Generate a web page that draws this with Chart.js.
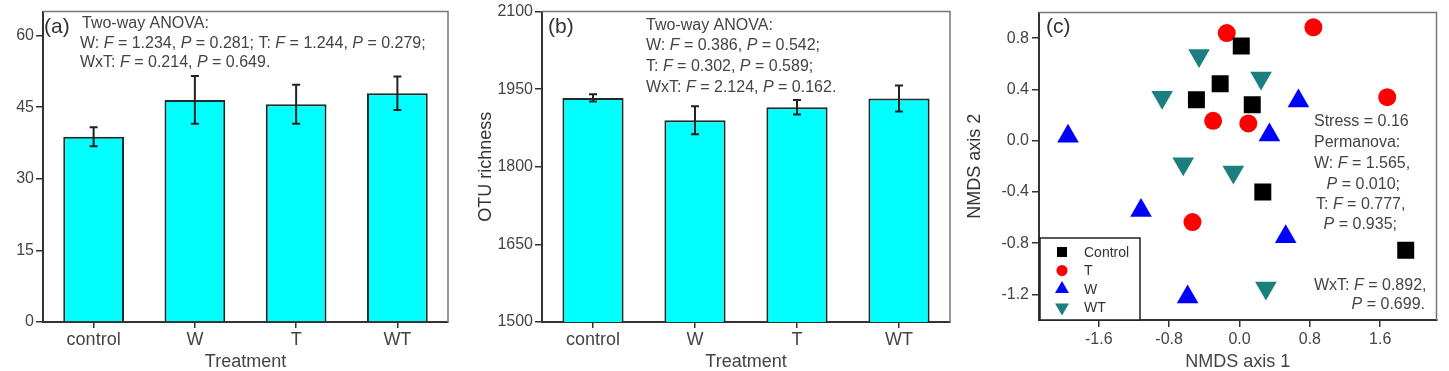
<!DOCTYPE html>
<html>
<head>
<meta charset="utf-8">
<script src="https://cdn.jsdelivr.net/npm/chart.js@4.4.1/dist/chart.umd.min.js"></script>
<style>
  html, body { margin: 0; padding: 0; background: #fff; }
  body { width: 1449px; height: 371px; position: relative; overflow: hidden; }
  canvas { position: absolute; top: 0; }
</style>
</head>
<body>
<canvas id="chartA" width="470" height="371" style="left:0"></canvas>
<canvas id="chartB" width="490" height="371" style="left:470px"></canvas>
<canvas id="chartC" width="489" height="371" style="left:960px"></canvas>
<script>
const treatments = ['control', 'W', 'T', 'WT'];

// panel (a)
const meanA = [38.8, 46.5, 45.6, 47.9];
const errA = [2.0, 5.0, 4.1, 3.5];
const ticksA = [0, 15, 30, 45, 60];

// panel (b), OTU richness
const meanB = [1933, 1890, 1915, 1932];
const errB = [7, 27, 14, 25];
const ticksB = [1500, 1650, 1800, 1950, 2100];

// panel (c), NMDS ordination
const controlX = [0.02, -0.22, -0.49, 0.145, 0.265, 1.89];
const controlY = [0.74, 0.445, 0.32, 0.28, -0.40, -0.855];
const tX = [-0.145, 0.84, 1.68, -0.30, 0.10, -0.535];
const tY = [0.84, 0.885, 0.34, 0.155, 0.135, -0.635];
const wX = [0.67, -1.95, 0.34, -1.12, 0.525, -0.59];
const wY = [0.31, 0.035, 0.045, -0.545, -0.75, -1.22];
const wtX = [-0.46, 0.245, -0.88, -0.64, -0.07, 0.30];
const wtY = [0.665, 0.49, 0.34, -0.18, -0.245, -1.15];
const nmdsTicksX = [-1.6, -0.8, 0, 0.8, 1.6];
const nmdsTicksY = [-1.2, -0.8, -0.4, 0, 0.4, 0.8];

const FONT = '"Liberation Sans", Arial, sans-serif';
Chart.defaults.font.family = FONT;
Chart.defaults.color = '#444';
Chart.defaults.animation = false;
Chart.defaults.plugins.legend.display = false;
Chart.defaults.plugins.tooltip.enabled = false;

// text with *italic* parts
function drawRich(ctx, text, x, y, size, align) {
  const parts = text.split('*');
  const fonts = parts.map((p, i) => (i % 2 ? 'italic ' : '') + size + 'px ' + FONT);
  let w = 0;
  parts.forEach((p, i) => { ctx.font = fonts[i]; w += ctx.measureText(p).width; });
  let cx = align === 'right' ? x - w : x;
  parts.forEach((p, i) => {
    ctx.font = fonts[i];
    ctx.fillText(p, cx, y);
    cx += ctx.measureText(p).width;
  });
}

const frame = {
  id: 'frame',
  afterDraw(chart) {
    const { ctx, chartArea: a } = chart;
    ctx.save();
    ctx.strokeStyle = '#777';
    ctx.lineWidth = 1.5;
    ctx.beginPath();
    ctx.moveTo(a.left, a.top);
    ctx.lineTo(a.right, a.top);
    ctx.lineTo(a.right, a.bottom);
    ctx.stroke();
    ctx.restore();
  }
};

const errorBars = {
  id: 'errorBars',
  afterDatasetsDraw(chart, args, opts) {
    if (!opts.errors) return;
    const { ctx } = chart;
    const y = chart.scales.y;
    const vals = chart.data.datasets[0].data;
    ctx.save();
    ctx.strokeStyle = '#222';
    ctx.lineWidth = 2;
    chart.getDatasetMeta(0).data.forEach((bar, i) => {
      const top = y.getPixelForValue(vals[i] + opts.errors[i]);
      const bot = y.getPixelForValue(vals[i] - opts.errors[i]);
      ctx.beginPath();
      ctx.moveTo(bar.x, top); ctx.lineTo(bar.x, bot);
      ctx.moveTo(bar.x - 4, top); ctx.lineTo(bar.x + 4, top);
      ctx.moveTo(bar.x - 4, bot); ctx.lineTo(bar.x + 4, bot);
      ctx.stroke();
    });
    ctx.restore();
  }
};

const notes = {
  id: 'notes',
  afterDraw(chart, args, opts) {
    if (!opts.lines) return;
    const { ctx } = chart;
    ctx.save();
    ctx.textBaseline = 'alphabetic';
    opts.lines.forEach(l => {
      ctx.fillStyle = l.color || '#444';
      drawRich(ctx, l.text, l.x, l.y, l.size || 16, l.align);
    });
    ctx.restore();
  }
};

function marker(ctx, style, x, y, r) {
  ctx.beginPath();
  if (style === 'rect') {
    ctx.rect(x - r, y - r, 2 * r, 2 * r);
  } else if (style === 'circle') {
    ctx.arc(x, y, r, 0, Math.PI * 2);
  } else {
    const s = style === 'down' ? -1 : 1;
    ctx.moveTo(x, y - s * r);
    ctx.lineTo(x + r * 0.87, y + s * r * 0.5);
    ctx.lineTo(x - r * 0.87, y + s * r * 0.5);
    ctx.closePath();
  }
  ctx.fill();
}

const nmdsLegend = {
  id: 'nmdsLegend',
  afterDraw(chart) {
    const { ctx } = chart;
    const bottom = chart.chartArea.bottom;
    ctx.save();
    ctx.fillStyle = '#fff';
    ctx.fillRect(80, 238, 100, bottom - 238);
    ctx.strokeStyle = '#222';
    ctx.lineWidth = 1.5;
    ctx.strokeRect(80, 238, 100, bottom - 238);
    const items = [
      ['Control', 'rect', '#000', 5],
      ['T', 'circle', '#ff0000', 5.5],
      ['W', 'up', '#0000ff', 8],
      ['WT', 'down', '#1b7f7f', 8]
    ];
    items.forEach((it, i) => {
      const cy = 252 + i * 18.5;
      ctx.fillStyle = it[2];
      marker(ctx, it[1], 102, cy, it[3]);
      ctx.fillStyle = '#333';
      ctx.font = '14px ' + FONT;
      ctx.textBaseline = 'middle';
      ctx.fillText(it[0], 124, cy + 1);
    });
    ctx.restore();
  }
};

function axisStyle(extra) {
  return Object.assign({
    grid: { drawOnChartArea: false, drawTicks: true, tickLength: 7, color: '#333', lineWidth: 1.5 },
    border: { display: true, color: '#333', width: 2 }
  }, extra);
}

function barChart(id, values, errors, ticks, yWidth, padRight, yTitle, lines) {
  return new Chart(document.getElementById(id), {
    type: 'bar',
    data: {
      labels: treatments,
      datasets: [{
        data: values,
        backgroundColor: '#00ffff',
        borderColor: '#1d2b2b',
        borderWidth: 2,
        barPercentage: 0.6,
        categoryPercentage: 1
      }]
    },
    options: {
      responsive: false,
      layout: { padding: { left: 0, right: padRight, top: 10, bottom: 0 } },
      scales: {
        x: axisStyle({
          grid: { offset: false, drawOnChartArea: false, tickLength: 6, color: '#333', lineWidth: 1.5 },
          ticks: { font: { size: 18 }, padding: 1, color: '#444' },
          title: { display: true, text: 'Treatment', font: { size: 18, lineHeight: 1 }, padding: 0, color: '#444' },
          afterFit: s => { s.height = 49; }
        }),
        y: axisStyle({
          min: ticks[0],
          max: ticks[ticks.length - 1] + (id === 'chartA' ? 5 : 0),
          ticks: { font: { size: 16 }, padding: 2, color: '#444', callback: v => String(v) },
          title: { display: !!yTitle, text: yTitle, font: { size: 18, lineHeight: 1.2 }, padding: { top: 5, bottom: 0 }, color: '#333' },
          afterBuildTicks: s => { s.ticks = ticks.map(v => ({ value: v })); },
          afterFit: s => { s.width = yWidth; }
        })
      },
      plugins: { errorBars: { errors }, notes: { lines } }
    },
    plugins: [frame, errorBars, notes]
  });
}

barChart('chartA', meanA, errA, ticksA, 43, 22, '', [
  { text: '(a)', x: 44, y: 33, size: 21, color: '#333' },
  { text: 'Two-way ANOVA:', x: 82, y: 28 },
  { text: 'W: *F* = 1.234, *P* = 0.281; T: *F* = 1.244, *P* = 0.279;', x: 80, y: 48 },
  { text: 'WxT: *F* = 0.214, *P* = 0.649.', x: 80, y: 67 }
]);

barChart('chartB', meanB, errB, ticksB, 72, 10, 'OTU richness', [
  { text: '(b)', x: 78, y: 33, size: 21, color: '#333' },
  { text: 'Two-way ANOVA:', x: 176, y: 30 },
  { text: 'W: *F* = 0.386, *P* = 0.542;', x: 176, y: 50 },
  { text: 'T: *F* = 0.302, *P* = 0.589;', x: 176, y: 71 },
  { text: 'WxT: *F* = 2.124, *P* = 0.162.', x: 176, y: 92 }
]);

function pts(xs, ys) {
  return xs.map((x, i) => ({ x, y: ys[i] }));
}

new Chart(document.getElementById('chartC'), {
  type: 'scatter',
  data: {
    datasets: [
      { label: 'Control', data: pts(controlX, controlY), pointStyle: 'rect', pointRadius: 12, backgroundColor: '#000', borderWidth: 0 },
      { label: 'T', data: pts(tX, tY), pointStyle: 'circle', pointRadius: 9, backgroundColor: '#ff0000', borderWidth: 0 },
      { label: 'W', data: pts(wX, wY), pointStyle: 'triangle', pointRadius: 12.5, backgroundColor: '#0000ff', borderWidth: 0 },
      { label: 'WT', data: pts(wtX, wtY), pointStyle: 'triangle', rotation: 180, pointRadius: 12.5, backgroundColor: '#1b7f7f', borderWidth: 0 }
    ]
  },
  options: {
    responsive: false,
    layout: { padding: { left: 0, right: 6, top: 10, bottom: 0 } },
    scales: {
      x: axisStyle({
        type: 'linear',
        min: -2.28,
        max: 2.24,
        ticks: { font: { size: 16 }, padding: 3, color: '#444', callback: v => v.toFixed(1) },
        title: { display: true, text: 'NMDS axis 1', font: { size: 18, lineHeight: 1 }, padding: 0, color: '#444' },
        afterBuildTicks: s => { s.ticks = nmdsTicksX.map(v => ({ value: v })); },
        afterFit: s => { s.height = 51; }
      }),
      y: axisStyle({
        type: 'linear',
        min: -1.4,
        max: 1.0,
        ticks: { font: { size: 16 }, padding: 3, color: '#444', callback: v => v.toFixed(1) },
        title: { display: true, text: 'NMDS axis 2', font: { size: 18, lineHeight: 1.2 }, padding: { top: 4, bottom: 0 }, color: '#333' },
        afterBuildTicks: s => { s.ticks = nmdsTicksY.map(v => ({ value: v })); },
        afterFit: s => { s.width = 79; }
      })
    },
    plugins: {
      notes: {
        lines: [
          { text: '(c)', x: 86, y: 33, size: 21, color: '#333' },
          { text: 'Stress = 0.16', x: 354, y: 126 },
          { text: 'Permanova:', x: 354, y: 147 },
          { text: 'W: *F* = 1.565,', x: 354, y: 168 },
          { text: '*P* = 0.010;', x: 440, y: 189, align: 'right' },
          { text: 'T: *F* = 0.777,', x: 356, y: 209 },
          { text: '*P* = 0.935;', x: 437, y: 229, align: 'right' },
          { text: 'WxT: *F* = 0.892,', x: 354, y: 290 },
          { text: '*P* = 0.699.', x: 465, y: 309, align: 'right' }
        ]
      }
    }
  },
  plugins: [frame, notes, nmdsLegend]
});
</script>
</body>
</html>
